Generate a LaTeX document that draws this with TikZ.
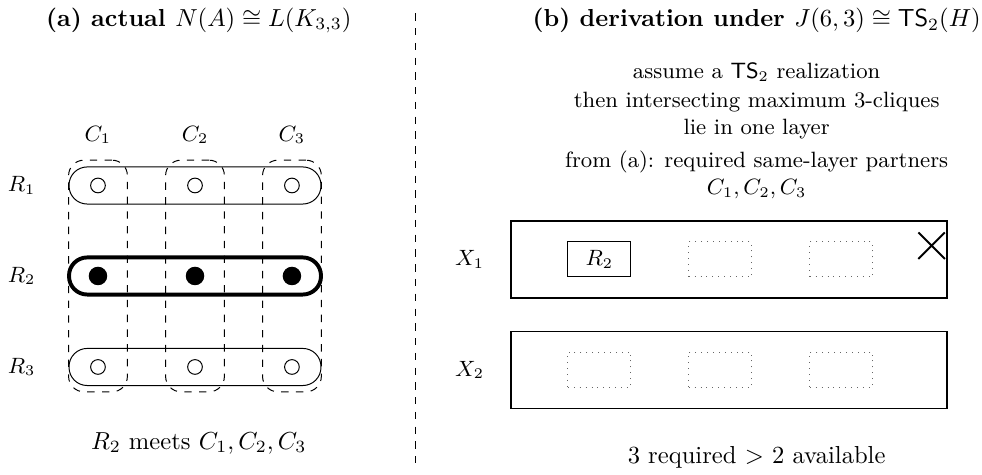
\documentclass[tikz,border=0pt]{standalone}
\usepackage{amsmath}
\usepackage{amssymb}
\usetikzlibrary{shapes.misc}

\begin{document}
\begin{tikzpicture}[
  roworbit/.style={draw, rounded corners=0.26cm, minimum width=3.6cm, minimum height=0.53cm, inner sep=0pt},
  colorbit/.style={draw, dashed, rounded corners=0.22cm, minimum width=0.84cm, minimum height=3.31cm, inner sep=0pt},
  vtx/.style={draw, circle, minimum size=0.21cm, inner sep=0pt},
  hub/.style={draw, fill, circle, minimum size=0.25cm, inner sep=0pt},
  layer/.style={draw, semithick, minimum width=6.23cm, minimum height=1.1cm, inner sep=0pt},
  slotbox/.style={draw, minimum width=0.9cm, minimum height=0.5cm, inner sep=0pt},
  freeslot/.style={draw=black!60, dotted, minimum width=0.9cm, minimum height=0.5cm, inner sep=0pt}
]
\useasboundingbox (0,0) rectangle (14.03,-6.786);

% (a) left panel
\node[font=\bfseries, inner sep=0pt] (titleA) at (2.84,-0.29) {(a) actual $N(A)\cong L(K_{3,3})$};

  \node[colorbit] (c1) at (1.40,-3.943) {};
  \node[colorbit] (c2) at (2.786,-3.943) {};
  \node[colorbit] (c3) at (4.171,-3.943) {};
  \node[font=\small] (c1lab) at (1.40,-1.93) {$C_1$};
  \node[font=\small] (c2lab) at (2.786,-1.93) {$C_2$};
  \node[font=\small] (c3lab) at (4.171,-1.93) {$C_3$};

  \node[roworbit] (r1) at (2.786,-2.65) {};
  \node[roworbit, line width=1.6pt] (r2) at (2.786,-3.943) {};
  \node[roworbit] (r3) at (2.786,-5.243) {};
  \node[font=\small] (r1lab) at (0.31,-2.65) {$R_1$};
  \node[font=\small] (r2lab) at (0.31,-3.94) {$R_2$};
  \node[font=\small] (r3lab) at (0.31,-5.24) {$R_3$};

  \node[vtx] (v11) at (1.40,-2.65) {};
  \node[vtx] (v12) at (2.786,-2.65) {};
  \node[vtx] (v13) at (4.171,-2.65) {};
  \node[hub] (v21) at (1.40,-3.943) {};
  \node[hub] (v22) at (2.786,-3.943) {};
  \node[hub] (v23) at (4.171,-3.943) {};
  \node[vtx] (v31) at (1.40,-5.243) {};
  \node[vtx] (v32) at (2.786,-5.243) {};
  \node[vtx] (v33) at (4.171,-5.243) {};

\node (captionA) at (2.84,-6.33) {$R_2$ meets $C_1,C_2,C_3$};

% divider
\coordinate (divtop) at (5.93,-0.19);
\coordinate (divbot) at (5.93,-6.71);
\draw[dashed] (divtop) -- (divbot);

% (b) right panel
\node[font=\bfseries, inner sep=0pt, anchor=east] (titleB) at (14.02,-0.29) {(b) derivation under $J(6,3)\cong \mathsf{TS}_2(H)$};

  \node[font=\small] (assume) at (10.81,-1.03) {assume a $\mathsf{TS}_2$ realization};
  \node[font=\small, align=center] (cliques) at (10.81,-1.65) {then intersecting maximum 3-cliques\\lie in one layer};
  \node[font=\small, align=center] (partners) at (10.81,-2.50) {from (a): required same-layer partners\\$C_1,C_2,C_3$};

  \node[layer] (x1) at (10.415,-3.707) {};
  \node[layer] (x2) at (10.415,-5.286) {};
  \node[font=\small] (x1lab) at (6.71,-3.707) {$X_1$};
  \node[font=\small] (x2lab) at (6.71,-5.286) {$X_2$};

  \node[slotbox, font=\small] (s11) at (8.564,-3.707) {$R_2$};
  \node[freeslot] (s12) at (10.29,-3.707) {};
  \node[freeslot] (s13) at (12.02,-3.707) {};
  \node[freeslot] (s21) at (8.564,-5.279) {};
  \node[freeslot] (s22) at (10.29,-5.279) {};
  \node[freeslot] (s23) at (12.02,-5.279) {};

  \node[cross out, draw, thick, minimum size=0.35cm, inner sep=0pt] (veto) at (13.31,-3.51) {};

\node (captionB) at (10.81,-6.54) {3 required $>$ 2 available};
\end{tikzpicture}
\end{document}
